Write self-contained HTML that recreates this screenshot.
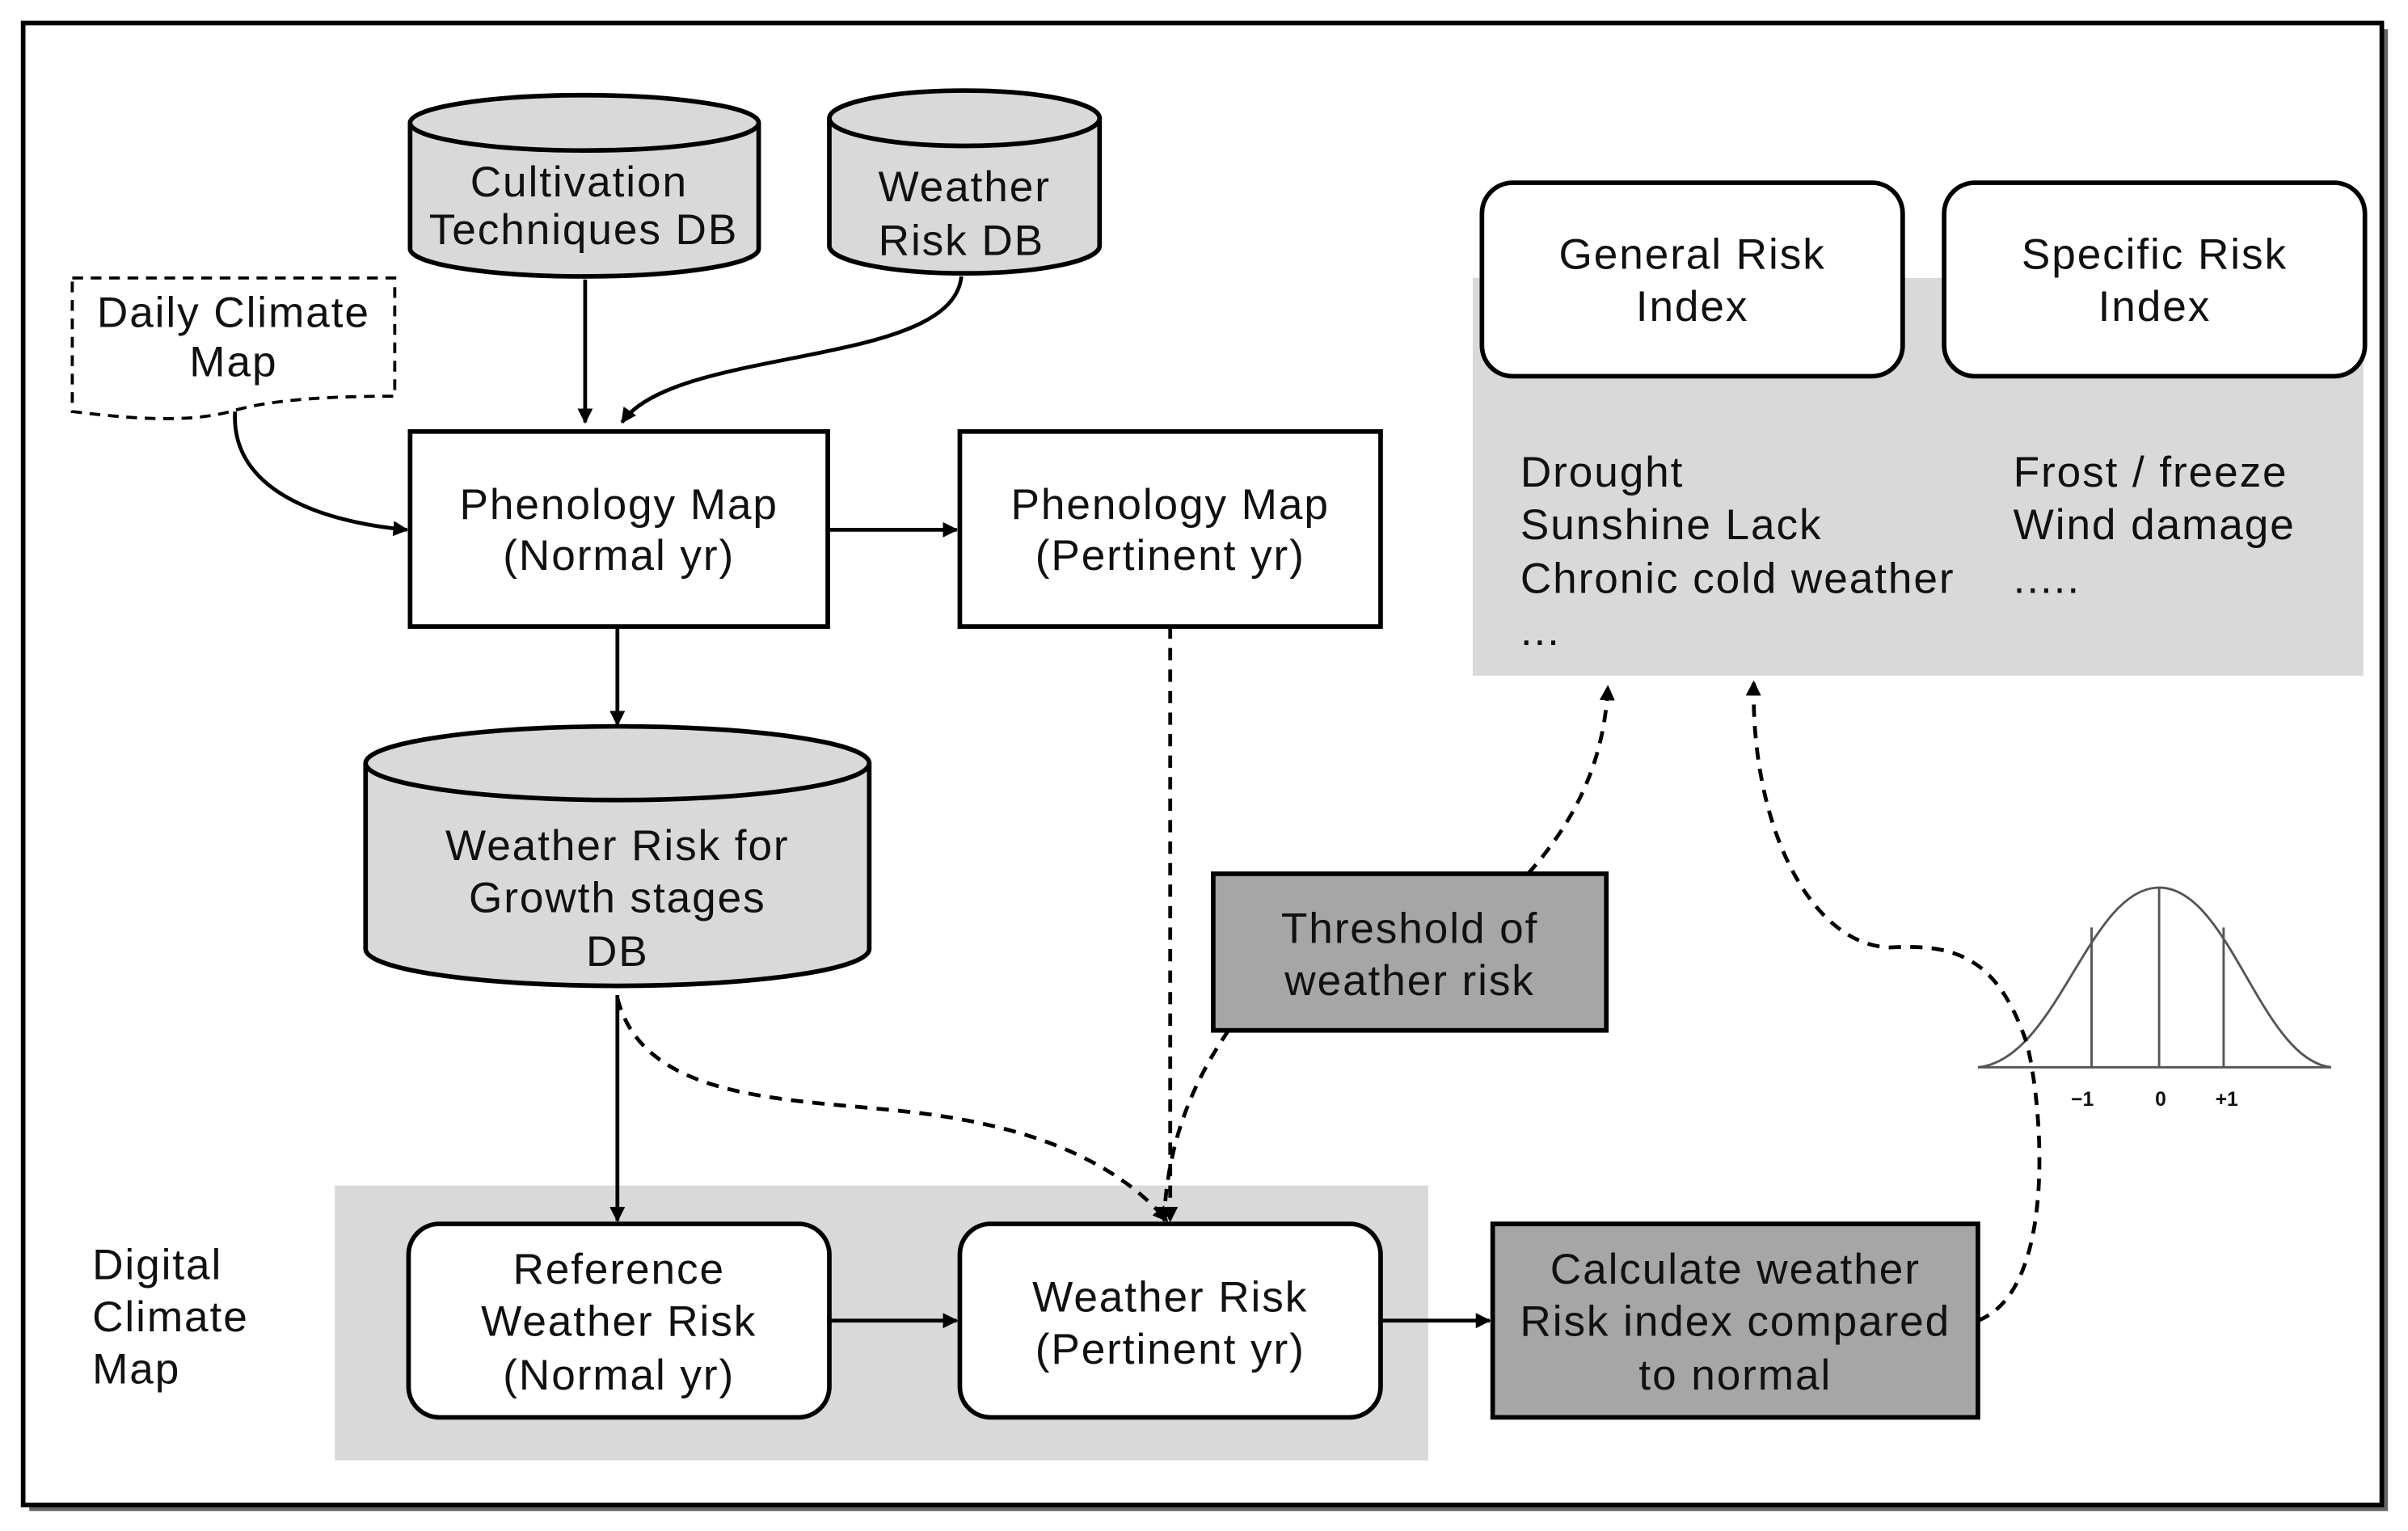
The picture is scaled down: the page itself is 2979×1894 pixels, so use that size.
<!DOCTYPE html>
<html><head><meta charset="utf-8"><style>
html,body{margin:0;padding:0;background:#fff;}
svg{display:block;}
text{font-family:"Liberation Sans","DejaVu Sans",sans-serif;font-size:28px;letter-spacing:1px;fill:#111;text-anchor:middle;}
</style></head><body>
<svg width="2979" height="1894" viewBox="0 0 1568 997" xmlns="http://www.w3.org/2000/svg">
<defs>
<marker id="a" markerWidth="10" markerHeight="10" refX="9" refY="5" orient="auto" markerUnits="userSpaceOnUse"><path d="M0,0 L10,5 L0,10 z" fill="#000"/></marker>
</defs>
<rect x="0" y="0" width="1568" height="997" fill="#fff"/>
<rect x="19" y="19" width="1536" height="965" fill="#666"/>
<rect x="15" y="15" width="1536" height="965" fill="#fff" stroke="#000" stroke-width="3"/>

<rect x="959" y="181" width="580" height="259" fill="#d9d9d9"/>
<rect x="218" y="772" width="712" height="179" fill="#d9d9d9"/>

<path d="M267,80 L267,162 A113.5,18 0 0 0 494,162 L494,80" fill="#d9d9d9" stroke="#000" stroke-width="3"/>
<ellipse cx="380.5" cy="80" rx="113.5" ry="18" fill="#d9d9d9" stroke="#000" stroke-width="3"/>
<text x="377" y="128" fill="#333">Cultivation</text>
<text x="380" y="159" fill="#333">Techniques DB</text>

<path d="M540,77 L540,160 A88,18 0 0 0 716,160 L716,77" fill="#d9d9d9" stroke="#000" stroke-width="3"/>
<ellipse cx="628" cy="77" rx="88" ry="18" fill="#d9d9d9" stroke="#000" stroke-width="3"/>
<text x="628" y="131">Weather</text>
<text x="626" y="166">Risk DB</text>

<path d="M47,181 L257,181 L257,258 C200,258 170,262 150,268 C120,276 80,272 47,268 Z" fill="#fff" stroke="#000" stroke-width="2" stroke-dasharray="7,5"/>
<text x="152" y="213">Daily Climate</text>
<text x="152" y="245">Map</text>

<rect x="267" y="281" width="272" height="127" fill="#fff" stroke="#000" stroke-width="3"/>
<text x="403" y="338">Phenology Map</text>
<text x="403" y="371">(Normal yr)</text>
<rect x="625" y="281" width="274" height="127" fill="#fff" stroke="#000" stroke-width="3"/>
<text x="762" y="338">Phenology Map</text>
<text x="762" y="371" fill="#333">(Pertinent yr)</text>

<path d="M238,497 L238,618 A164,24 0 0 0 566,618 L566,497" fill="#d9d9d9" stroke="#000" stroke-width="3"/>
<ellipse cx="402" cy="497" rx="164" ry="24" fill="#d9d9d9" stroke="#000" stroke-width="3"/>
<text x="402" y="560">Weather Risk for</text>
<text x="402" y="594">Growth stages</text>
<text x="402" y="629">DB</text>

<rect x="790" y="569" width="256" height="102" fill="#a6a6a6" stroke="#000" stroke-width="3"/>
<text x="918" y="614">Threshold of</text>
<text x="918" y="648">weather risk</text>

<rect x="266" y="797" width="274" height="126" rx="20" fill="#fff" stroke="#000" stroke-width="3"/>
<text x="403" y="836">Reference</text>
<text x="403" y="870">Weather Risk</text>
<text x="403" y="905">(Normal yr)</text>
<rect x="625" y="797" width="274" height="126" rx="20" fill="#fff" stroke="#000" stroke-width="3"/>
<text x="762" y="854">Weather Risk</text>
<text x="762" y="888">(Pertinent yr)</text>
<rect x="972" y="797" width="316" height="126" fill="#a6a6a6" stroke="#000" stroke-width="3"/>
<text x="1130" y="836">Calculate weather</text>
<text x="1130" y="870">Risk index compared</text>
<text x="1130" y="905">to normal</text>

<text x="60" y="833" style="text-anchor:start">Digital</text>
<text x="60" y="867" style="text-anchor:start">Climate</text>
<text x="60" y="901" style="text-anchor:start">Map</text>

<rect x="965" y="119" width="274" height="126" rx="20" fill="#fff" stroke="#000" stroke-width="3"/>
<text x="1102" y="175" fill="#333">General Risk</text>
<text x="1102" y="209" fill="#333">Index</text>
<rect x="1266" y="119" width="274" height="126" rx="20" fill="#fff" stroke="#000" stroke-width="3"/>
<text x="1403" y="175" fill="#333">Specific Risk</text>
<text x="1403" y="209" fill="#333">Index</text>

<text x="990" y="317" style="text-anchor:start">Drought</text>
<text x="990" y="351" style="text-anchor:start">Sunshine Lack</text>
<text x="990" y="386" style="text-anchor:start">Chronic cold weather</text>
<text x="990" y="420" style="text-anchor:start">...</text>
<text x="1311" y="317" style="text-anchor:start">Frost / freeze</text>
<text x="1311" y="351" style="text-anchor:start">Wind damage</text>
<text x="1311" y="386" style="text-anchor:start">.....</text>

<path d="M1288,695 C1340,690 1360,578 1406,578 C1452,578 1472,690 1518,695" fill="none" stroke="#555" stroke-width="1.5"/>
<line x1="1288" y1="695" x2="1518" y2="695" stroke="#555" stroke-width="1.5"/>
<line x1="1362" y1="604" x2="1362" y2="695" stroke="#555" stroke-width="1.5"/>
<line x1="1406" y1="578" x2="1406" y2="695" stroke="#555" stroke-width="1.5"/>
<line x1="1448" y1="604" x2="1448" y2="695" stroke="#555" stroke-width="1.5"/>
<text x="1356" y="720" style="font-size:13px;font-weight:bold;letter-spacing:0">−1</text>
<text x="1407" y="720" style="font-size:13px;font-weight:bold;letter-spacing:0">0</text>
<text x="1450" y="720" style="font-size:13px;font-weight:bold;letter-spacing:0">+1</text>

<g fill="none" stroke="#000" stroke-width="2.5">
<line x1="381" y1="182" x2="381" y2="275" marker-end="url(#a)"/>
<path d="M626,180 C620,240 440,225 405,275" marker-end="url(#a)"/>
<path d="M153,268 C150,320 210,340 265,345" marker-end="url(#a)"/>
<line x1="539" y1="345" x2="623" y2="345" marker-end="url(#a)"/>
<line x1="402" y1="408" x2="402" y2="472" marker-end="url(#a)"/>
<line x1="402" y1="648" x2="402" y2="795" marker-end="url(#a)"/>
<line x1="540" y1="860" x2="623" y2="860" marker-end="url(#a)"/>
<line x1="899" y1="860" x2="970" y2="860" marker-end="url(#a)"/>
</g>
<g fill="none" stroke="#000" stroke-width="2.5" stroke-dasharray="8,6">
<line x1="762" y1="408" x2="762" y2="795" marker-end="url(#a)"/>
<path d="M402,650 C420,720 520,715 600,725 C680,735 730,760 760,795" marker-end="url(#a)"/>
<path d="M800,671 C780,700 760,740 758,795" marker-end="url(#a)"/>
<path d="M995,569 C1030,530 1045,490 1047,447" marker-end="url(#a)"/>
<path d="M1288,860 C1340,840 1330,720 1320,680 C1300,620 1270,615 1230,617 C1180,615 1140,540 1142,444" marker-end="url(#a)"/>
</g>
</svg>
</body></html>
